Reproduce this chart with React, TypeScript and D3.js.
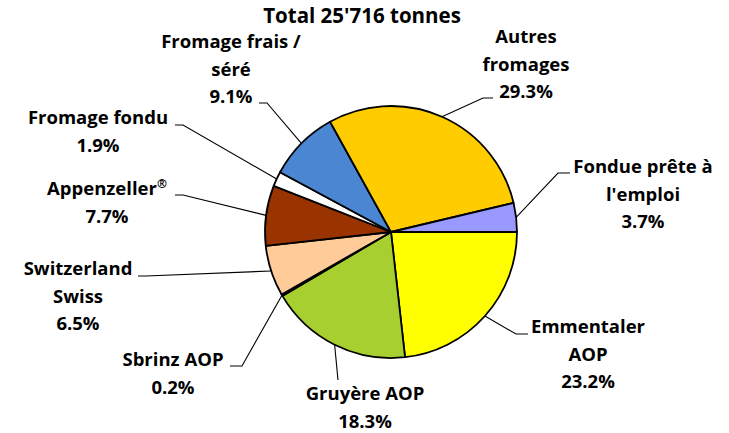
import { useEffect, useRef } from 'react';
import * as d3 from 'd3';

const categories = [
  ['Emmentaler', 'AOP'],
  ['Gruyère AOP'],
  ['Sbrinz AOP'],
  ['Switzerland', 'Swiss'],
  ['Appenzeller®'],
  ['Fromage fondu'],
  ['Fromage frais /', 'séré'],
  ['Autres', 'fromages'],
  ['Fondue prête à', "l'emploi"],
];
const shares = [23.2, 18.3, 0.2, 6.5, 7.7, 1.9, 9.1, 29.3, 3.7];
const percentLabels = ['23.2%', '18.3%', '0.2%', '6.5%', '7.7%', '1.9%', '9.1%', '29.3%', '3.7%'];
const colors = ['#ffff00', '#a6cf2f', '#2b2b2b', '#ffcc99', '#993300', '#ffffff', '#4a86d2', '#ffcc00', '#9999ff'];
const title = "Total 25'716 tonnes";

// label layout: text centre x, first baseline y, leader elbow and end
const labelLayout = [
  { x: 588, y: 333, elbow: [516, 334], end: [528, 334] },
  { x: 365, y: 400, elbow: null, end: [338, 380] },
  { x: 173, y: 366, elbow: [242, 366], end: [230, 366] },
  { x: 78, y: 275, elbow: [146, 276], end: [138, 276] },
  { x: 107, y: 195, elbow: [183, 195], end: [175, 195] },
  { x: 98, y: 124, elbow: [183, 125], end: [175, 125] },
  { x: 231, y: 48, elbow: [267, 103], end: [259, 103] },
  { x: 526, y: 43, elbow: [483, 98], end: [493, 98] },
  { x: 643, y: 173, elbow: [558, 173], end: [570, 173] },
];

const App = () => {
  const svgRef = useRef<SVGSVGElement>(null!);

  useEffect(() => {
    const width = 729;
    const height = 433;
    const cx = 391;
    const cy = 232;
    const radius = 126;
    const lineH = 27.5;
    const font = "'Open Sans', sans-serif";

    const svg = d3.select(svgRef.current);
    svg.attr('width', width).attr('height', height);

    const pie = d3
      .pie<number>()
      .sort(null)
      .startAngle(Math.PI / 2)
      .endAngle(Math.PI / 2 + 2 * Math.PI);
    const arcs = pie(shares);
    const arc = d3.arc<d3.PieArcDatum<number>>().innerRadius(0).outerRadius(radius);

    const g = svg.append('g').attr('transform', `translate(${cx},${cy})`);
    g.selectAll('path')
      .data(arcs)
      .enter()
      .append('path')
      .attr('d', arc)
      .attr('fill', (_, i) => colors[i])
      .attr('stroke', '#000')
      .attr('stroke-width', 1.8)
      .attr('stroke-linejoin', 'round');

    // leader lines
    arcs.forEach((a, i) => {
      const mid = (a.startAngle + a.endAngle) / 2;
      const px = cx + Math.sin(mid) * radius;
      const py = cy - Math.cos(mid) * radius;
      const l = labelLayout[i];
      const pts: [number, number][] = [[px, py]];
      if (l.elbow) pts.push(l.elbow as [number, number]);
      pts.push(l.end as [number, number]);
      svg
        .append('path')
        .attr('d', d3.line()(pts))
        .attr('fill', 'none')
        .attr('stroke', '#000')
        .attr('stroke-width', 1.1);
    });

    // labels
    categories.forEach((lines, i) => {
      const l = labelLayout[i];
      const t = svg
        .append('text')
        .attr('text-anchor', 'middle')
        .attr('font-family', font)
        .attr('font-weight', 700)
        .attr('font-size', 18.5)
        .attr('fill', '#000');
      [...lines, percentLabels[i]].forEach((s, j) => {
        const row = t.append('tspan').attr('x', l.x).attr('y', l.y + j * lineH);
        if (s.endsWith('®')) {
          row.append('tspan').text(s.slice(0, -1));
          row
            .append('tspan')
            .attr('font-size', 12)
            .attr('dy', -7)
            .text('®');
        } else {
          row.text(s);
        }
      });
    });

    svg
      .append('text')
      .attr('x', 362)
      .attr('y', 23)
      .attr('text-anchor', 'middle')
      .attr('font-family', font)
      .attr('font-weight', 700)
      .attr('font-size', 20.5)
      .text(title);

    return () => {
      svgRef.current.innerHTML = '';
    };
  }, []);

  return (
    <svg
      ref={svgRef}
      style={{ position: 'absolute', left: 0, top: 0, background: '#fff' }}
    ></svg>
  );
};

export default App;
